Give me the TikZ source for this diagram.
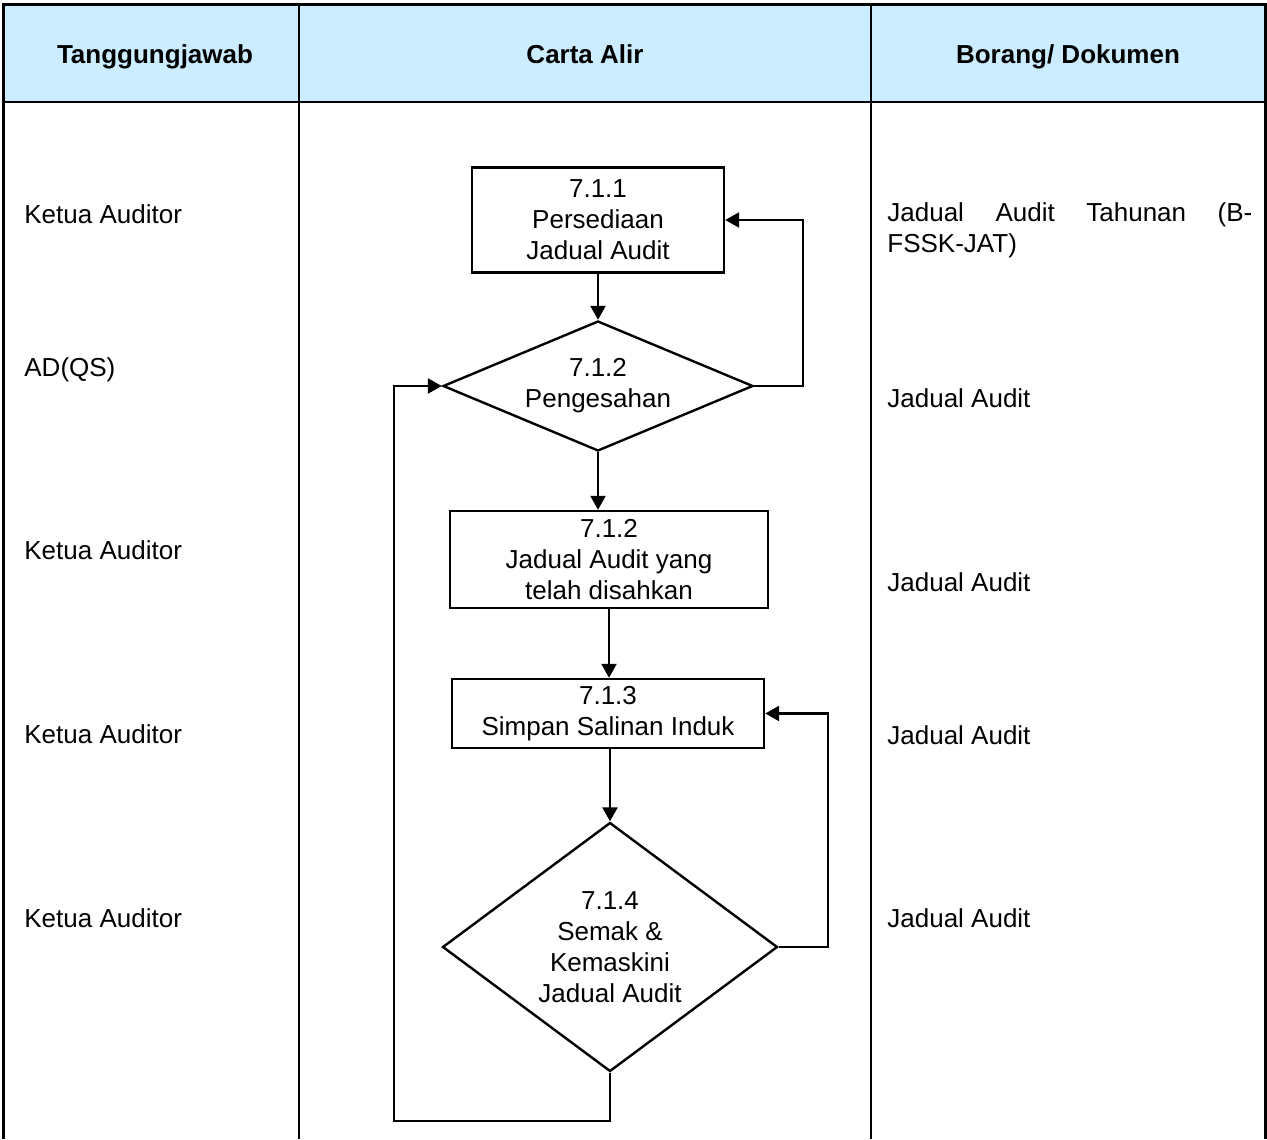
\documentclass[tikz,border=0pt]{standalone}
\usepackage{fontspec}
\setmainfont{Liberation Sans}
\usetikzlibrary{shapes.geometric,arrows.meta}
\definecolor{birumuda}{HTML}{CCECFF}
\begin{document}
\begin{tikzpicture}[x=0.5pt,y=-0.5pt,line cap=butt,line join=miter,>={Triangle[length=7pt,width=7.5pt]},font=\fontsize{13}{15.5}\selectfont]
		\tikzset{proses/.style={draw,line width=1.2pt,align=center,inner sep=0pt},
			keputusan/.style={draw,diamond,line width=1.2pt,align=center,inner sep=0pt},
			alir/.style={->,line width=1.2pt},
			teks/.style={anchor=west,inner sep=0pt},
			tajuk/.style={anchor=base,inner sep=0pt,font=\fontsize{13}{15.5}\selectfont\bfseries}}
		\useasboundingbox (0,0) rectangle (1267,1139);
		%--------- Jadual
		\fill[birumuda] (3,5) rectangle (1265,102);
		\draw[line width=1.5pt] (3,1139)--(3,5)--(1265,5)--(1265,1139);
		\draw[line width=1pt] (3,102)--(1265,102) (299,5)--(299,1139) (871,5)--(871,1139);
		\node[tajuk] (h1) at (155,64) {Tanggungjawab};
		\node[tajuk] (h2) at (585,64) {Carta Alir};
		\node[tajuk] (h3) at (1068,64) {Borang/ Dokumen};
		%--------- Tanggungjawab
		\node[teks] (t1) at (24,214) {Ketua Auditor};
		\node[teks] (t2) at (24,370) {AD(QS)};
		\node[teks] (t3) at (24,550) {Ketua Auditor};
		\node[teks] (t4) at (24,734) {Ketua Auditor};
		\node[teks] (t5) at (24,918) {Ketua Auditor};
		%--------- Borang
		\node[anchor=north west,inner sep=0pt,text width=182.5pt] (r1) at (887,202) {Jadual\hfill Audit\hfill Tahunan\hfill (B-\\FSSK-JAT)};
		\node[teks] (r2) at (887,398) {Jadual Audit};
		\node[teks] (r3) at (887,582) {Jadual Audit};
		\node[teks] (r4) at (887,735) {Jadual Audit};
		\node[teks] (r5) at (887,918) {Jadual Audit};
		%--------- Carta alir
		\node[proses,minimum width=126pt,minimum height=52.5pt] (b1) at (598,220) {7.1.1\\Persediaan\\Jadual Audit};
		\node[keputusan,aspect=2.38,minimum width=155pt,minimum height=65pt] (d1) at (598,386) {7.1.2\\Pengesahan};
		\node[proses,minimum width=159pt,minimum height=48.5pt] (b2) at (609,559.5) {7.1.2\\Jadual Audit yang\\telah disahkan};
		\node[proses,minimum width=156pt,minimum height=34.5pt] (b3) at (608,713.5) {7.1.3\\Simpan Salinan Induk};
		\node[keputusan,aspect=1.35,minimum width=167.5pt,minimum height=124.5pt] (d2) at (610,947) {7.1.4\\Semak \&\\Kemaskini\\Jadual Audit};
		\coordinate (kiri) at (394,1121);
		\draw[alir] (b1) -- (d1);
		\draw[alir] (d1.east) -- ++(49,0) |- (b1.east);
		\draw[alir] (d1.south) -- (d1.south |- b2.north);
		\draw[alir] (b2.south) -- (b2.south |- b3.north);
		\draw[alir] (d2.north |- b3.south) -- (d2.north);
		\draw[alir] (d2.east) -- ++(49,0) |- (b3.east);
		\draw[alir] (d2.south) |- (kiri) |- (d1.west);
	\end{tikzpicture}
\end{document}
